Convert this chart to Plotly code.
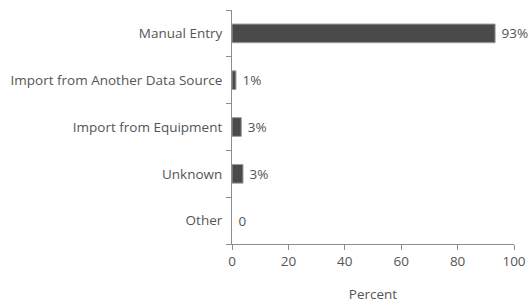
import plotly.graph_objects as go

categories = ["Manual Entry", "Import from Another Data Source", "Import from Equipment", "Unknown", "Other"]
values = [93.3, 1.4, 3.3, 3.9, 0]
labels = ["93%", "1%", "3%", "3%", "0"]
x_ticks = [0, 20, 40, 60, 80, 100]

font_family = "Open Sans, DejaVu Sans, sans-serif"
text_color = "#555555"
axis_color = "#8c8c8c"
fs = 13.5

fig = go.Figure(go.Bar(
    x=values,
    y=categories,
    orientation="h",
    text=[" " + t for t in labels],
    textposition="outside",
    textfont=dict(family=font_family, size=fs, color=text_color),
    marker=dict(color="#4a4a4a", line=dict(color="#a0a0a0", width=[1, 1, 1, 1, 0])),
    cliponaxis=False,
))

fig.update_layout(
    width=528, height=303,
    margin=dict(l=232, r=14, t=10, b=59),
    paper_bgcolor="white", plot_bgcolor="white",
    bargap=0.6,
    showlegend=False,
    font=dict(family=font_family, size=fs, color=text_color),
    xaxis=dict(
        range=[0, 100], tickvals=x_ticks, ticks="outside", ticklen=5,
        tickcolor=axis_color, showline=True, linecolor=axis_color, linewidth=1,
        showgrid=False, zeroline=False, automargin=False,
        title=dict(text="Percent", standoff=21, font=dict(size=fs, color=text_color)),
        tickfont=dict(size=fs, color=text_color),
    ),
    yaxis=dict(
        categoryorder="array", categoryarray=categories[::-1],
        autorange=False, range=[-0.5, 4.5], automargin=False,
        ticks="outside", ticklen=5, tickson="boundaries", tickcolor=axis_color,
        showline=True, linecolor=axis_color, linewidth=1, showgrid=False,
        tickfont=dict(size=fs, color=text_color), ticklabelstandoff=6,
    ),
    uniformtext=dict(minsize=fs, mode="show"),
)

fig.write_html("out.html", config={"displayModeBar": False},
               post_script="document.body.style.margin='0';document.body.style.padding='0';")
